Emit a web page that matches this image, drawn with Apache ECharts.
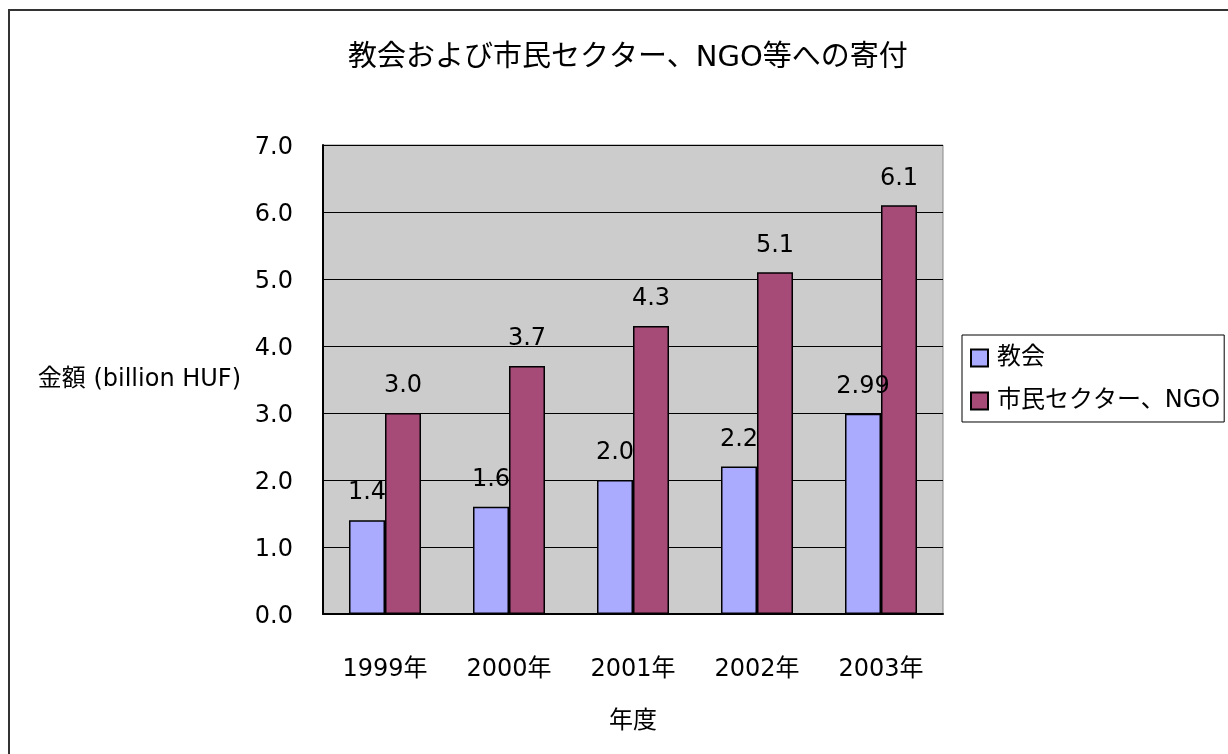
<!DOCTYPE html>
<html><head><meta charset="utf-8">
<script src="https://cdn.jsdelivr.net/npm/echarts@6/dist/echarts.min.js"></script>
<style>html,body{margin:0;padding:0;background:#fff}#c{width:1228px;height:754px}</style>
</head><body><div id="c"></div>
<script>
const categories = ['1999年','2000年','2001年','2002年','2003年'];
const churchValues = [1.4, 1.6, 2.0, 2.2, 2.99];
const ngoValues = [3.0, 3.7, 4.3, 5.1, 6.1];
const churchLabels = ['1.4','1.6','2.0','2.2','2.99'];
const ngoLabels = ['3.0','3.7','4.3','5.1','6.1'];
const seriesNames = ['教会','市民セクター、NGO'];
const titleText = '教会および市民セクター、NGO等への寄付';
const yName = '金額 (billion HUF)';
const xName = '年度';

const FONT = '"DejaVu Sans", "Noto Sans CJK JP", sans-serif';
const chart = echarts.init(document.getElementById('c'), null, {renderer:'canvas'});
const option = {
  animation:false,
  textStyle:{fontFamily:FONT, color:'#000'},
  title:{text:titleText, left:348, top:44, padding:0, textStyle:{fontFamily:FONT, fontSize:29, fontWeight:'normal', color:'#000'}},
  graphic:[{type:'rect', shape:{x:9,y:10,width:1400,height:900}, style:{fill:'none', stroke:'#333', lineWidth:2}, z:100}],
  grid:{left:323, top:145, width:620, height:469, show:true, backgroundColor:'#CCCCCC', borderColor:'#888', borderWidth:1},
  legend:{orient:'vertical', left:962, top:335, padding:[11,4,9,8], itemGap:19, itemWidth:17, itemHeight:17,
    icon:'rect', borderColor:'#000', borderWidth:1, backgroundColor:'#fff',
    textStyle:{fontFamily:FONT, fontSize:24, color:'#000', padding:[0,0,0,4]}, data:seriesNames},
  xAxis:{type:'category', data:categories, name:xName, nameLocation:'middle', nameGap:96,
    nameTextStyle:{fontFamily:FONT, fontSize:24, color:'#000'},
    axisLine:{lineStyle:{color:'#000', width:2}}, axisTick:{inside:true, length:8, lineStyle:{color:'#000'}},
    axisLabel:{margin:44, fontSize:24, color:'#000', fontFamily:FONT}},
  yAxis:{type:'value', min:0, max:7, interval:1, name:yName, nameLocation:'middle', nameRotate:0, nameGap:82,
    nameTextStyle:{fontFamily:FONT, fontSize:24, color:'#000', padding:[6,0,0,0]},
    axisLine:{show:true, lineStyle:{color:'#000', width:2}}, axisTick:{show:true, inside:true, length:8, lineStyle:{color:'#000'}},
    axisLabel:{margin:30, fontSize:24, color:'#000', fontFamily:FONT, formatter:v=>'{a|' + v.toFixed(1) + '}',
      rich:{a:{fontSize:24, fontFamily:FONT, color:'#000', padding:[6,0,0,0]}}},
    splitLine:{show:true, lineStyle:{color:'#000', width:1}}},
  series:[
    {name:seriesNames[0], type:'bar', data:churchValues, barWidth:36, barGap:'0%',
      itemStyle:{color:'#AAAAFF', borderColor:'#000', borderWidth:1.5},
      label:{show:true, position:'top', distance:15, fontSize:24, color:'#000', fontFamily:FONT,
        formatter:p=>churchLabels[p.dataIndex]}},
    {name:seriesNames[1], type:'bar', data:ngoValues, barWidth:36, barGap:'0%',
      itemStyle:{color:'#A64A78', borderColor:'#000', borderWidth:1.5},
      label:{show:true, position:'top', distance:15, fontSize:24, color:'#000', fontFamily:FONT,
        formatter:p=>ngoLabels[p.dataIndex]}}
  ]
};
chart.setOption(option);
</script></body></html>
